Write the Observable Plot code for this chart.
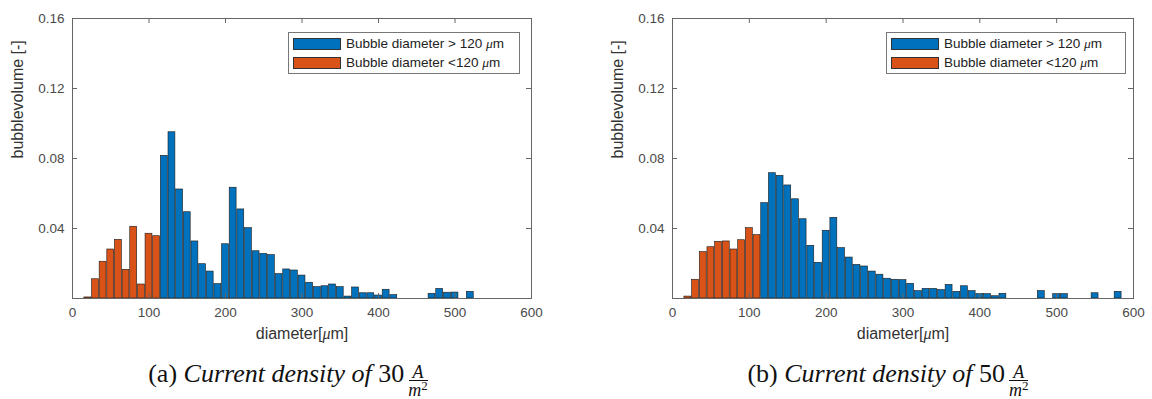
<!DOCTYPE html>
<html>
<head>
<meta charset="utf-8">
<script src="https://cdn.jsdelivr.net/npm/d3@7"></script>
<script src="https://cdn.jsdelivr.net/npm/@observablehq/plot@0.6"></script>
<style>
  html, body { margin: 0; padding: 0; background: #fff; }
  #root { position: relative; width: 1152px; height: 399px; overflow: hidden; }
  .panel { position: absolute; top: 0; width: 600px; height: 399px; }
  .legend { position: absolute; top: 32px; height: 40px; border: 1px solid #777; background: #fff;
            font-family: "Liberation Sans", Arial, sans-serif; font-size: 13.5px; color: #222; }
  .legend .row { position: absolute; left: 4px; height: 13px; display: flex; align-items: center; white-space: nowrap; }
  .legend .sw { width: 48px; height: 12px; margin-right: 5px; border: 0.5px solid #333; box-sizing: border-box; }
  .cap { position: absolute; top: 359px; text-align: center; font-family: "Liberation Serif", "Times New Roman", serif;
         font-size: 26px; line-height: 30px; color: #111; white-space: nowrap; }
  .frac { display: inline-flex; flex-direction: column; align-items: center; vertical-align: 4px; font-size: 18px; line-height: 16px; margin-left: 4px; }
  .frac .num { border-bottom: 1px solid #111; padding: 0 4px; }
  .frac .den { padding-top: 1px; }
  .frac sup { font-size: 13px; vertical-align: 6px; line-height: 0; font-style: normal; }
</style>
</head>
<body>
<div id="root"></div>
<script>
// ---- data (bin centres in µm, bubble volume fraction) ----
const xTicks = [0, 100, 200, 300, 400, 500, 600];
const yTicks = [0.04, 0.08, 0.12, 0.16];
const xLabel = "diameter[μm]";
const yLabel = "bubblevolume [-]";
const legendLarge = "Bubble diameter > 120 ";
const legendSmall = "Bubble diameter <120 ";

// (a) 30 A/m²
const diamA_small = [20, 30, 40, 50, 60, 70, 80, 90, 100, 110];
const volA_small  = [0.0006, 0.011, 0.021, 0.028, 0.0335, 0.0164, 0.041, 0.008, 0.037, 0.0356];
const diamA_large = [120, 130, 140, 150, 160, 170, 180, 190, 200, 210, 220, 230, 240, 250, 260, 270, 280, 290,
                     300, 310, 320, 330, 340, 350, 360, 370, 380, 390, 400, 410, 420, 470, 480, 490, 500, 520];
const volA_large  = [0.0815, 0.095, 0.0623, 0.0493, 0.0326, 0.0196, 0.0154, 0.0082, 0.031, 0.0633, 0.0509, 0.0402,
                     0.027, 0.0255, 0.0248, 0.0139, 0.0166, 0.016, 0.0131, 0.009, 0.0065, 0.007, 0.008, 0.0065,
                     0.0011, 0.0063, 0.003, 0.003, 0.0017, 0.005, 0.0019, 0.0027, 0.0055, 0.0033, 0.0034, 0.0038];

// (b) 50 A/m²
const diamB_small = [20, 30, 40, 50, 60, 70, 80, 90, 100, 110];
const volB_small  = [0.0011, 0.0107, 0.0265, 0.0293, 0.0324, 0.0326, 0.028, 0.0333, 0.0402, 0.0362];
const diamB_large = [120, 130, 140, 150, 160, 170, 180, 190, 200, 210, 220, 230, 240, 250, 260, 270, 280, 290,
                     300, 310, 320, 330, 340, 350, 360, 370, 380, 390, 400, 410, 420, 430, 480, 500, 510, 550, 580];
const volB_large  = [0.0545, 0.0716, 0.0701, 0.0646, 0.0567, 0.0453, 0.0301, 0.0204, 0.0387, 0.0461, 0.0288, 0.0234,
                     0.0192, 0.0183, 0.0154, 0.0136, 0.0113, 0.0107, 0.0105, 0.0084, 0.0042, 0.0055, 0.0055, 0.0048,
                     0.0078, 0.0038, 0.007, 0.0042, 0.0025, 0.0025, 0.0013, 0.0027, 0.0042, 0.0025, 0.0025, 0.003, 0.0038];

const blue = "#0072BD";
const orange = "#D95319";
const axisColor = "#666";
const textColor = "#4a4a4a";

function rows(d, v) { return d.map((x, i) => ({d: x, v: v[i]})); }

function makeChart(small, large, marginRight) {
  const W = 600, H = 350, mT = 18, mB = 52, mL = 72;
  const fw = W - mL - marginRight, fh = H - mT - mB;
  const half = 4.5;
  const svg = Plot.plot({
    width: W, height: H,
    marginTop: mT, marginBottom: mB, marginLeft: mL, marginRight,
    style: {fontFamily: "'Liberation Sans', Arial, sans-serif", fontSize: "13.5px", background: "#fff", color: textColor},
    x: {domain: [0, 600], label: null},
    y: {domain: [0, 0.16], label: null},
    marks: [
      Plot.rectY(small, {x1: d => d.d - half, x2: d => d.d + half, y: "v", fill: orange, stroke: "#1a1a1a", strokeWidth: 0.6}),
      Plot.rectY(large, {x1: d => d.d - half, x2: d => d.d + half, y: "v", fill: blue, stroke: "#1a1a1a", strokeWidth: 0.6}),
      // inward tick marks (MATLAB style)
      Plot.gridX(xTicks, {insetTop: fh - 5, stroke: axisColor, strokeOpacity: 1}),
      Plot.gridX(xTicks, {insetBottom: fh - 5, stroke: axisColor, strokeOpacity: 1}),
      Plot.gridY(yTicks, {insetRight: fw - 5, stroke: axisColor, strokeOpacity: 1}),
      Plot.gridY(yTicks, {insetLeft: fw - 5, stroke: axisColor, strokeOpacity: 1}),
      Plot.axisX({ticks: xTicks, tickSize: 0, tickPadding: 9, tickFormat: d3.format("d"), label: null, fill: textColor}),
      Plot.axisY({ticks: yTicks, tickSize: 0, tickPadding: 8, tickFormat: d3.format(".2f"), label: null, fill: textColor}),
      Plot.frame({stroke: axisColor, strokeWidth: 1}),
      Plot.text([xLabel], {frameAnchor: "bottom", dy: 40, fontSize: 16, fill: "#333", text: d => d}),
      Plot.text([yLabel], {frameAnchor: "left", dx: -55, rotate: -90, fontSize: 16, fill: "#333", text: d => d})
    ]
  });
  // italic µ as in the TeX-rendered label
  d3.select(svg).selectAll("text").each(function() {
    const t = this.textContent;
    if (t === xLabel) {
      const s = d3.select(this); s.text(null);
      s.append("tspan").text("diameter[");
      s.append("tspan").attr("font-style", "italic").attr("font-family", "'Liberation Serif', serif").text("μ");
      s.append("tspan").text("m]");
    }
  });
  return svg;
}

function legend(left, width) {
  const el = document.createElement("div");
  el.className = "legend";
  el.style.left = left + "px";
  el.style.width = width + "px";
  const mk = (top, color, label) => {
    const r = document.createElement("div");
    r.className = "row"; r.style.top = top + "px";
    r.innerHTML = `<div class="sw" style="background:${color}"></div><span>${label}<i style="font-family:'Liberation Serif',serif">μ</i>m</span>`;
    el.appendChild(r);
  };
  mk(4, blue, legendLarge);
  mk(23.5, orange, legendSmall);
  return el;
}

function caption(letter, value, left) {
  const el = document.createElement("div");
  el.className = "cap";
  el.style.left = left + "px";
  el.style.width = "576px";
  el.innerHTML = `(${letter}) <i>Current density of</i> ${value}<span class="frac"><span class="num"><i>A</i></span><span class="den"><i>m</i><sup>2</sup></span></span>`;
  return el;
}

const root = document.getElementById("root");
const panels = [
  {left: 0, small: rows(diamA_small, volA_small), large: rows(diamA_large, volA_large), mr: 69, leg: [288, 230], letter: "a", value: "30"},
  {left: 600, small: rows(diamB_small, volB_small), large: rows(diamB_large, volB_large), mr: 67, leg: [286, 238], letter: "b", value: "50"}
];
for (const p of panels) {
  const div = document.createElement("div");
  div.className = "panel";
  div.style.left = p.left + "px";
  div.appendChild(makeChart(p.small, p.large, p.mr));
  div.appendChild(legend(p.leg[0], p.leg[1]));
  div.appendChild(caption(p.letter, p.value, 0));
  root.appendChild(div);
}
</script>
</body>
</html>
